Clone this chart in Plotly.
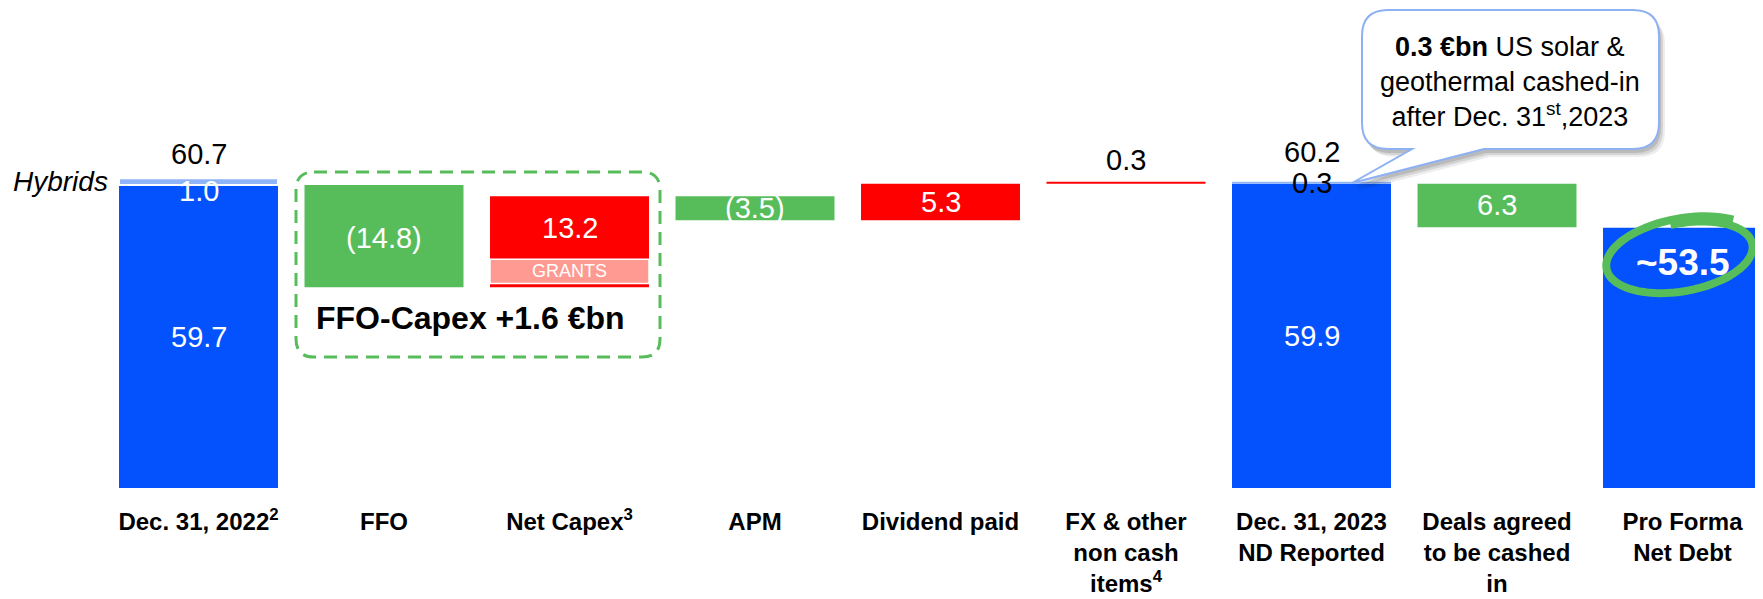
import numpy as np
import plotly.graph_objects as go

# ---------------- data ----------------
categories = [
    "Dec. 31, 2022<sup>2</sup>", "FFO", "Net Capex<sup>3</sup>", "APM", "Dividend paid",
    "FX & other<br>non cash<br>items<sup>4</sup>", "Dec. 31, 2023<br>ND Reported",
    "Deals agreed<br>to be cashed<br>in", "Pro Forma<br>Net Debt",
]
start_net_debt = 59.7
start_hybrids = 1.0
step_names = ["FFO", "Net Capex", "APM", "Dividend paid", "FX & other"]
step_values = [-14.8, 13.2, -3.5, 5.3, 0.3]
grants_value = 3.5          # (share of net capex bar)
end_net_debt = 59.9
end_hybrids = 0.3
deals_value = -6.3
pro_forma = 53.5
ffo_capex = 1.6
callout_value = 0.3

# ---------------- styling ----------------
BLUE = "#0352FD"
LBLUE = "#8FB4F7"
GREEN = "#57BD5B"
RED = "#FF0000"
PINK = "#FF9A92"
FONT = "Arial, Liberation Sans, sans-serif"

PAGE_W, PAGE_H = 1763, 599
OFF = 8                      # default page body margin
W, H = PAGE_W - OFF, PAGE_H - OFF
BOTTOM_PAGE = 488            # page y of plot bottom
PLOT_H = BOTTOM_PAGE - OFF
UNIT_X = 185.5
X0_PAGE = 198.5
Y_MIN = 15.8
PX_PER_Y = 6.9
xr = [-(X0_PAGE - OFF) / UNIT_X, (PAGE_W - X0_PAGE) / UNIT_X]
yr = [Y_MIN, Y_MIN + PLOT_H / PX_PER_Y]
BW = 0.857


def px2x(p):  # page pixel -> data x
    return xr[0] + (p - OFF) / W * (xr[1] - xr[0])


def py2y(p):  # page pixel -> data y
    return yr[1] - (p - OFF) / PLOT_H * (yr[1] - yr[0])


# ---------------- waterfall geometry from data ----------------
bases, cum = [], start_net_debt
for v in step_values:
    bases.append(cum)
    cum += v
step_x = [1, 2, 3, 4, 5]
deals_base = end_net_debt
wf_x = step_x + [7]
wf_base = bases + [deals_base]
wf_val = step_values + [deals_value]
wf_col = [GREEN if v < 0 else RED for v in wf_val]

fig = go.Figure()

fig.add_trace(go.Bar(
    x=[0, 6, 8], y=[start_net_debt, end_net_debt, pro_forma], width=BW,
    marker=dict(color=BLUE, line=dict(width=0)), hoverinfo="skip", showlegend=False))
fig.add_trace(go.Bar(
    x=[0, 6], y=[start_hybrids, end_hybrids], base=[start_net_debt, end_net_debt], width=BW,
    marker=dict(color=LBLUE, line=dict(color="white", width=[2, 0])),
    hoverinfo="skip", showlegend=False))
fig.add_trace(go.Bar(
    x=wf_x, y=wf_val, base=wf_base, width=BW,
    marker=dict(color=wf_col, line=dict(width=0)), hoverinfo="skip", showlegend=False))
capex_base = bases[1]
grants_base = capex_base + 0.55
fig.add_trace(go.Bar(
    x=[2], y=[grants_value], base=[grants_base], width=BW,
    marker=dict(color=PINK, line=dict(color="white", width=1.5)),
    hoverinfo="skip", showlegend=False))

ann = []


def label(x, y, text, color="white", size=29, yshift=0, bold=False, xanchor="center", **kw):
    ann.append(dict(x=x, y=y, xref="x", yref="y", text=(f"<b>{text}</b>" if bold else text),
                    showarrow=False, yshift=yshift, xanchor=xanchor, yanchor="middle",
                    font=dict(family=FONT, size=size, color=color), **kw))


def fmt(v):
    return f"({abs(v):.1f})" if v < 0 else f"{v:.1f}"


label(0, start_net_debt + start_hybrids, f"{start_net_debt + start_hybrids:.1f}", color="black", yshift=24)
label(0, start_net_debt, f"{start_hybrids:.1f}", yshift=-6)
label(0, (Y_MIN + start_net_debt) / 2, f"{start_net_debt:.1f}")
label(-BW / 2 - 0.05, start_net_debt + start_hybrids / 2, "<i>Hybrids</i>", color="black", size=28,
      xanchor="right")

for xi, b, v in zip(wf_x, wf_base, wf_val):
    if xi == 5:
        label(xi, b + v, fmt(v), color="black", yshift=22)
    elif xi == 2:
        label(xi, (grants_base + grants_value + b + v) / 2, fmt(v))
        label(xi, grants_base + grants_value / 2, "GRANTS", size=18)
    elif xi == 7:
        label(xi, b + v / 2, f"{abs(v):.1f}")
    else:
        label(xi, b + v / 2, fmt(v), yshift=-2 if xi == 1 else 0)

label(6, end_net_debt + end_hybrids, f"{end_net_debt + end_hybrids:.1f}", color="black", yshift=30)
label(6, end_net_debt + end_hybrids, f"{end_hybrids:.1f}", color="black", yshift=-1)
label(6, (Y_MIN + end_net_debt) / 2, f"{end_net_debt:.1f}")

label(8, pro_forma, f"~{pro_forma:.1f}", size=37, bold=True, yshift=-35)

label(px2x(470), py2y(318), f"FFO-Capex +{ffo_capex:.1f} €bn", color="black", size=32, bold=True)

label(px2x(1510), py2y(82),
      f"<b>{callout_value:.1f} €bn</b> US solar &<br>geothermal cashed-in<br>after Dec. 31<sup>st</sup>,2023",
      color="black", size=27)

shapes = []


def rrect(x0, y0, x1, y1, r):
    return (f"M {px2x(x0 + r)},{py2y(y0)} L {px2x(x1 - r)},{py2y(y0)} "
            f"Q {px2x(x1)},{py2y(y0)} {px2x(x1)},{py2y(y0 + r)} "
            f"L {px2x(x1)},{py2y(y1 - r)} Q {px2x(x1)},{py2y(y1)} {px2x(x1 - r)},{py2y(y1)} "
            f"L {px2x(x0 + r)},{py2y(y1)} Q {px2x(x0)},{py2y(y1)} {px2x(x0)},{py2y(y1 - r)} "
            f"L {px2x(x0)},{py2y(y0 + r)} Q {px2x(x0)},{py2y(y0)} {px2x(x0 + r)},{py2y(y0)} Z")


shapes.append(dict(type="path", xref="x", yref="y", path=rrect(296, 172, 660, 357, 18),
                   line=dict(color=GREEN, width=3, dash="13px,8px"), fillcolor="rgba(0,0,0,0)",
                   layer="above"))


def bubble(dx=0, dy=0):
    x0, y0, x1, y1, r = 1362 + dx, 10 + dy, 1659 + dx, 149 + dy, 26
    tb0, tb1, tip = 1412 + dx, 1484 + dx, (1352 + dx, 183 + dy)
    return (f"M {px2x(x0 + r)},{py2y(y0)} L {px2x(x1 - r)},{py2y(y0)} "
            f"Q {px2x(x1)},{py2y(y0)} {px2x(x1)},{py2y(y0 + r)} "
            f"L {px2x(x1)},{py2y(y1 - r)} Q {px2x(x1)},{py2y(y1)} {px2x(x1 - r)},{py2y(y1)} "
            f"L {px2x(tb1)},{py2y(y1)} L {px2x(tip[0])},{py2y(tip[1])} L {px2x(tb0)},{py2y(y1)} "
            f"L {px2x(x0 + r)},{py2y(y1)} Q {px2x(x0)},{py2y(y1)} {px2x(x0)},{py2y(y1 - r)} "
            f"L {px2x(x0)},{py2y(y0 + r)} Q {px2x(x0)},{py2y(y0)} {px2x(x0 + r)},{py2y(y0)} Z")


for (dx, dy, a) in [(6, 8, 0.07), (4, 6, 0.10), (2, 4, 0.12)]:
    shapes.append(dict(type="path", xref="x", yref="y", path=bubble(dx, dy),
                       line=dict(width=0), fillcolor=f"rgba(0,0,0,{a})", layer="above"))
shapes.append(dict(type="path", xref="x", yref="y", path=bubble(),
                   line=dict(color="#8DB1F3", width=2), fillcolor="white", layer="above"))

# hand-drawn green ellipse around pro-forma value (decoration)
cx, cy, rx, ry, phi = 1682, 256, 78, 37, np.deg2rad(10)
t0, t1 = np.deg2rad(45), np.deg2rad(45 + 360 + 50)
t = np.linspace(t0, t1, 110)
s = 1.03 - 0.15 * (t - t0) / (t1 - t0)
ex = cx + rx * s * np.cos(t) * np.cos(phi) - ry * s * np.sin(t) * np.sin(phi)
ey = cy - (rx * s * np.cos(t) * np.sin(phi) + ry * s * np.sin(t) * np.cos(phi))
path = "M " + " L ".join(f"{px2x(a)},{py2y(b)}" for a, b in zip(ex, ey))
shapes.append(dict(type="path", xref="x", yref="y", path=path,
                   line=dict(color=GREEN, width=8), layer="above"))

fig.update_layout(
    width=W, height=H, margin=dict(l=0, r=0, t=0, b=H - PLOT_H, autoexpand=False),
    paper_bgcolor="white", plot_bgcolor="white", barmode="overlay",
    annotations=ann, shapes=shapes, showlegend=False,
    xaxis=dict(range=xr, tickmode="array", tickvals=list(range(len(categories))), ticktext=categories,
               showgrid=False, zeroline=False, showline=False, ticks="", automargin=False,
               tickfont=dict(family=FONT, size=24, color="black", weight="bold"),
               ticklabelstandoff=17, fixedrange=True),
    yaxis=dict(range=yr, visible=False, fixedrange=True, automargin=False),
)

fig.write_html("out.html")
